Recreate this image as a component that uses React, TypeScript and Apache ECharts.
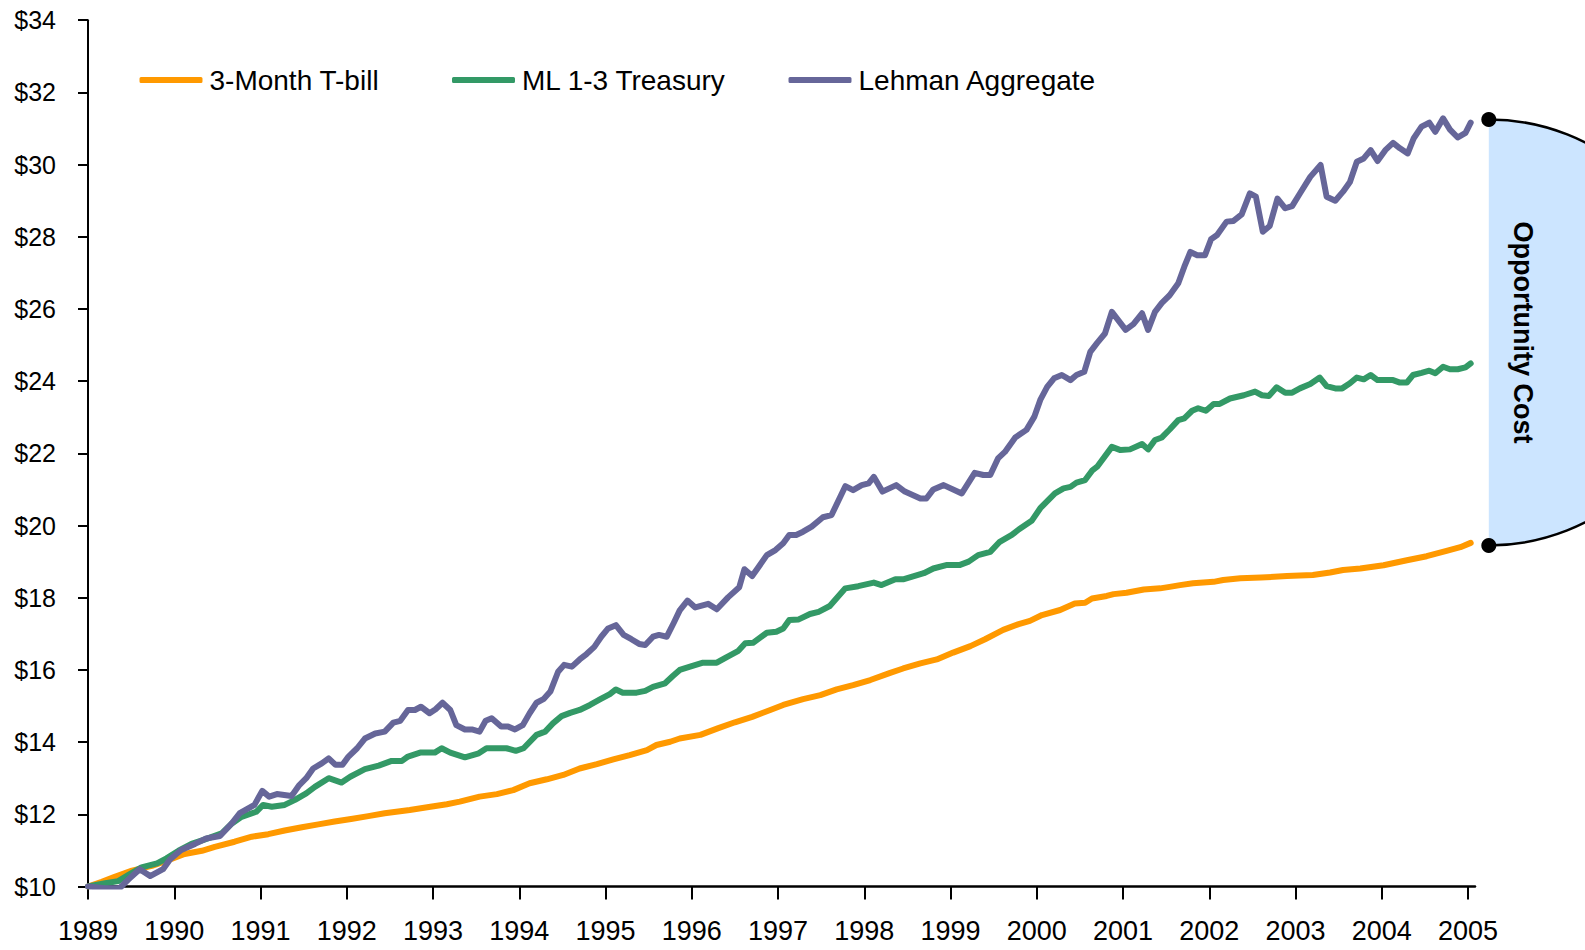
import React, { useEffect, useRef } from "react";
import * as echarts from "echarts";

// ---- data ----
const seriesNames = ["3-Month T-bill", "ML 1-3 Treasury", "Lehman Aggregate"];
const seriesColors = ["#FF9900", "#339966", "#666699"];

const yearTicks = [1989, 1990, 1991, 1992, 1993, 1994, 1995, 1996, 1997, 1998, 1999, 2000, 2001, 2002, 2003, 2004, 2005];

const tbillData: [number, number][] = [
  [1989.0, 10.0], [1989.16, 10.13], [1989.31, 10.27], [1989.51, 10.44], [1989.74, 10.57], [1989.93, 10.73],
  [1990.12, 10.9], [1990.32, 10.99], [1990.47, 11.1], [1990.7, 11.24], [1990.9, 11.38], [1991.09, 11.45],
  [1991.28, 11.55], [1991.48, 11.64], [1991.67, 11.72], [1991.86, 11.8], [1992.05, 11.87], [1992.25, 11.95],
  [1992.44, 12.03], [1992.73, 12.12], [1992.97, 12.21], [1993.16, 12.28], [1993.31, 12.35], [1993.54, 12.49],
  [1993.74, 12.56], [1993.93, 12.67], [1994.12, 12.86], [1994.32, 12.97], [1994.51, 13.09], [1994.7, 13.27],
  [1994.9, 13.39], [1995.09, 13.52], [1995.28, 13.64], [1995.48, 13.78], [1995.59, 13.92], [1995.75, 14.01],
  [1995.86, 14.1], [1996.1, 14.2], [1996.3, 14.38], [1996.5, 14.55], [1996.7, 14.7], [1996.91, 14.89],
  [1997.06, 15.03], [1997.29, 15.19], [1997.49, 15.3], [1997.68, 15.46], [1997.87, 15.58], [1998.07, 15.72],
  [1998.3, 15.92], [1998.45, 16.04], [1998.65, 16.18], [1998.84, 16.29], [1999.03, 16.48], [1999.23, 16.66],
  [1999.4, 16.85], [1999.61, 17.11], [1999.79, 17.27], [1999.92, 17.36], [2000.06, 17.52], [2000.27, 17.66],
  [2000.44, 17.84], [2000.56, 17.86], [2000.64, 17.98], [2000.81, 18.05], [2000.89, 18.1], [2001.04, 18.14],
  [2001.24, 18.23], [2001.43, 18.26], [2001.54, 18.3], [2001.66, 18.35], [2001.81, 18.4], [2002.05, 18.44],
  [2002.16, 18.49], [2002.36, 18.54], [2002.6, 18.56], [2002.9, 18.6], [2003.2, 18.63], [2003.4, 18.7],
  [2003.55, 18.77], [2003.75, 18.81], [2004.02, 18.9], [2004.29, 19.04], [2004.52, 19.15], [2004.75, 19.3],
  [2004.91, 19.4], [2005.03, 19.52],
];

const mlData: [number, number][] = [
  [1989.0, 10.0], [1989.2, 10.09], [1989.35, 10.15], [1989.47, 10.32], [1989.62, 10.53], [1989.8, 10.64],
  [1989.91, 10.78], [1990.05, 10.99], [1990.2, 11.18], [1990.34, 11.29], [1990.55, 11.47], [1990.66, 11.73],
  [1990.78, 11.93], [1990.95, 12.07], [1991.03, 12.26], [1991.13, 12.21], [1991.28, 12.26], [1991.4, 12.4],
  [1991.53, 12.58], [1991.63, 12.76], [1991.79, 13.0], [1991.94, 12.88], [1992.04, 13.04], [1992.21, 13.25],
  [1992.37, 13.35], [1992.52, 13.48], [1992.64, 13.48], [1992.71, 13.6], [1992.85, 13.71], [1993.02, 13.71],
  [1993.1, 13.83], [1993.2, 13.71], [1993.37, 13.58], [1993.53, 13.69], [1993.62, 13.83], [1993.85, 13.83],
  [1993.96, 13.76], [1994.05, 13.83], [1994.2, 14.2], [1994.3, 14.29], [1994.39, 14.52], [1994.49, 14.72],
  [1994.59, 14.81], [1994.7, 14.89], [1994.82, 15.03], [1994.94, 15.19], [1995.05, 15.33], [1995.12, 15.46],
  [1995.2, 15.37], [1995.36, 15.37], [1995.46, 15.42], [1995.55, 15.53], [1995.69, 15.63], [1995.78, 15.83],
  [1995.86, 16.0], [1995.98, 16.09], [1996.13, 16.2], [1996.29, 16.2], [1996.4, 16.35], [1996.54, 16.53],
  [1996.62, 16.74], [1996.71, 16.75], [1996.87, 17.03], [1996.98, 17.06], [1997.06, 17.15], [1997.13, 17.38],
  [1997.24, 17.4], [1997.37, 17.55], [1997.47, 17.61], [1997.6, 17.77], [1997.78, 18.26], [1997.93, 18.32],
  [1998.11, 18.42], [1998.2, 18.35], [1998.36, 18.51], [1998.45, 18.51], [1998.69, 18.68], [1998.8, 18.81],
  [1998.96, 18.91], [1999.11, 18.91], [1999.21, 19.0], [1999.32, 19.18], [1999.46, 19.27], [1999.57, 19.55],
  [1999.71, 19.74], [1999.79, 19.89], [1999.94, 20.13], [2000.04, 20.48], [2000.21, 20.89], [2000.31, 21.03],
  [2000.39, 21.07], [2000.46, 21.19], [2000.56, 21.26], [2000.64, 21.52], [2000.7, 21.63], [2000.87, 22.18],
  [2000.97, 22.09], [2001.08, 22.11], [2001.22, 22.26], [2001.29, 22.11], [2001.37, 22.37], [2001.45, 22.44],
  [2001.54, 22.66], [2001.64, 22.92], [2001.71, 22.97], [2001.8, 23.18], [2001.87, 23.25], [2001.96, 23.18],
  [2002.05, 23.37], [2002.12, 23.37], [2002.24, 23.52], [2002.4, 23.61], [2002.53, 23.71], [2002.61, 23.61],
  [2002.69, 23.59], [2002.78, 23.83], [2002.88, 23.68], [2002.96, 23.68], [2003.05, 23.8], [2003.17, 23.92],
  [2003.28, 24.1], [2003.36, 23.86], [2003.46, 23.8], [2003.54, 23.8], [2003.63, 23.94], [2003.71, 24.1],
  [2003.79, 24.05], [2003.87, 24.17], [2003.95, 24.03], [2004.13, 24.03], [2004.21, 23.96], [2004.29, 23.96],
  [2004.36, 24.17], [2004.46, 24.23], [2004.55, 24.29], [2004.62, 24.22], [2004.71, 24.4], [2004.79, 24.33],
  [2004.88, 24.33], [2004.97, 24.38], [2005.03, 24.49],
];

const lehmanData: [number, number][] = [
  [1989.0, 10.0], [1989.2, 9.95], [1989.37, 9.96], [1989.47, 10.2], [1989.6, 10.48], [1989.72, 10.29],
  [1989.87, 10.48], [1989.95, 10.75], [1990.08, 11.01], [1990.24, 11.18], [1990.37, 11.33], [1990.53, 11.4],
  [1990.66, 11.73], [1990.76, 12.03], [1990.93, 12.26], [1991.02, 12.65], [1991.1, 12.49], [1991.19, 12.56],
  [1991.36, 12.51], [1991.45, 12.81], [1991.53, 13.0], [1991.61, 13.27], [1991.71, 13.41], [1991.79, 13.55],
  [1991.87, 13.37], [1991.95, 13.37], [1992.02, 13.6], [1992.12, 13.83], [1992.21, 14.1], [1992.33, 14.24],
  [1992.44, 14.29], [1992.54, 14.54], [1992.62, 14.59], [1992.71, 14.89], [1992.79, 14.89], [1992.86, 14.98],
  [1992.96, 14.8], [1993.03, 14.91], [1993.11, 15.09], [1993.2, 14.89], [1993.27, 14.47], [1993.37, 14.35],
  [1993.45, 14.35], [1993.54, 14.29], [1993.61, 14.59], [1993.68, 14.66], [1993.79, 14.43], [1993.87, 14.43],
  [1993.95, 14.35], [1994.04, 14.47], [1994.12, 14.8], [1994.2, 15.09], [1994.28, 15.19], [1994.36, 15.4],
  [1994.45, 15.95], [1994.52, 16.14], [1994.61, 16.09], [1994.7, 16.29], [1994.78, 16.44], [1994.87, 16.64],
  [1994.95, 16.92], [1995.03, 17.15], [1995.12, 17.24], [1995.21, 16.97], [1995.3, 16.85], [1995.39, 16.72],
  [1995.46, 16.69], [1995.55, 16.92], [1995.62, 16.97], [1995.71, 16.92], [1995.79, 17.3], [1995.86, 17.65],
  [1995.95, 17.92], [1996.04, 17.73], [1996.19, 17.83], [1996.29, 17.68], [1996.42, 18.01], [1996.55, 18.29],
  [1996.61, 18.79], [1996.7, 18.6], [1996.77, 18.84], [1996.87, 19.18], [1996.97, 19.32], [1997.06, 19.51],
  [1997.13, 19.74], [1997.21, 19.74], [1997.29, 19.83], [1997.39, 19.97], [1997.52, 20.23], [1997.62, 20.29],
  [1997.78, 21.09], [1997.87, 20.98], [1997.97, 21.12], [1998.05, 21.17], [1998.11, 21.35], [1998.21, 20.94],
  [1998.37, 21.12], [1998.47, 20.94], [1998.65, 20.75], [1998.72, 20.75], [1998.8, 21.0], [1998.92, 21.12],
  [1999.13, 20.89], [1999.28, 21.46], [1999.38, 21.4], [1999.46, 21.4], [1999.55, 21.86], [1999.63, 22.04],
  [1999.75, 22.44], [1999.88, 22.65], [1999.97, 23.01], [2000.04, 23.48], [2000.12, 23.84], [2000.2, 24.08],
  [2000.29, 24.17], [2000.39, 24.03], [2000.46, 24.17], [2000.55, 24.26], [2000.62, 24.81], [2000.7, 25.06],
  [2000.79, 25.32], [2000.87, 25.92], [2000.95, 25.67], [2001.03, 25.42], [2001.12, 25.58], [2001.22, 25.88],
  [2001.29, 25.42], [2001.37, 25.92], [2001.45, 26.17], [2001.54, 26.38], [2001.64, 26.71], [2001.71, 27.17],
  [2001.78, 27.58], [2001.86, 27.49], [2001.95, 27.49], [2002.02, 27.93], [2002.09, 28.05], [2002.2, 28.42],
  [2002.28, 28.44], [2002.375, 28.62], [2002.47, 29.2], [2002.54, 29.11], [2002.62, 28.14], [2002.7, 28.3],
  [2002.79, 29.06], [2002.88, 28.79], [2002.96, 28.85], [2003.05, 29.2], [2003.17, 29.66], [2003.29, 29.99],
  [2003.36, 29.11], [2003.46, 29.0], [2003.55, 29.25], [2003.63, 29.52], [2003.71, 30.08], [2003.79, 30.17],
  [2003.87, 30.4], [2003.95, 30.1], [2004.04, 30.4], [2004.13, 30.6], [2004.21, 30.45], [2004.3, 30.31],
  [2004.37, 30.73], [2004.46, 31.05], [2004.55, 31.16], [2004.62, 30.91], [2004.71, 31.28], [2004.79, 30.97],
  [2004.88, 30.75], [2004.97, 30.88], [2005.03, 31.16],
];

// annotation: the gap between Lehman and T-bill at the end of the period
const annotationLabel = "Opportunity Cost";
const annotationYear = 2005.24;
const annotationTop = 31.25;
const annotationBottom = 19.45;

const FONT = "'Liberation Sans', Arial, sans-serif";
const LEGEND_LEFTS = [139.5, 452, 788.5];

export default function App() {
  const ref = useRef<HTMLDivElement>(null);

  useEffect(() => {
    if (!ref.current) return;
    const chart = echarts.init(ref.current, null, { renderer: "svg" });
    const allData = [tbillData, mlData, lehmanData];

    const option: any = {
      animation: false,
      backgroundColor: "#ffffff",
      grid: { left: 88, right: 110, top: 20.2, bottom: 63.5, containLabel: false, outerBoundsMode: "none" },
      legend: seriesNames.map((n, i) => ({
        data: [n],
        left: LEGEND_LEFTS[i],
        top: 60,
        padding: 0,
        icon: "roundRect",
        itemWidth: 63,
        itemHeight: 6,
        selectedMode: false,
        textStyle: { fontSize: 28, fontFamily: FONT, color: "#000", lineHeight: 40, padding: [0, 0, 0, 2] },
      })),
      xAxis: {
        type: "value",
        min: 1989,
        max: 2005.08,
        interval: 1,
        splitLine: { show: false },
        axisLine: { show: true, lineStyle: { color: "#000", width: 2.5 } },
        axisTick: { show: true, length: 13, lineStyle: { color: "#000", width: 2 }, customValues: yearTicks },
        axisLabel: {
          customValues: yearTicks,
          formatter: (v: number) => String(Math.round(v)),
          color: "#000",
          fontSize: 27,
          fontFamily: FONT,
          margin: 31,
        },
      },
      yAxis: {
        type: "value",
        min: 10,
        max: 34,
        interval: 2,
        splitLine: { show: false },
        axisLine: { show: true, lineStyle: { color: "#000", width: 2 } },
        axisTick: { show: true, length: 10, lineStyle: { color: "#000", width: 2 } },
        axisLabel: {
          formatter: (v: number) => "$" + v,
          color: "#000",
          fontSize: 25,
          fontFamily: FONT,
          margin: 32,
        },
      },
      series: seriesNames.map((n, i) => ({
        name: n,
        type: "line",
        data: allData[i],
        symbol: "none",
        color: seriesColors[i],
        lineStyle: { color: seriesColors[i], width: 6, cap: "round", join: "round" },
        itemStyle: { color: seriesColors[i] },
        z: 2 + i,
      })),
    };
    chart.setOption(option);

    const top = chart.convertToPixel({ xAxisIndex: 0, yAxisIndex: 0 } as any, [annotationYear, annotationTop]) as number[];
    const bot = chart.convertToPixel({ xAxisIndex: 0, yAxisIndex: 0 } as any, [annotationYear, annotationBottom]) as number[];
    const cx = top[0];
    const cy = (top[1] + bot[1]) / 2;
    const r = (bot[1] - top[1]) / 2;

    chart.setOption({
      graphic: [
        {
          type: "sector",
          z: 10,
          shape: { cx, cy, r, r0: 0, startAngle: -Math.PI / 2, endAngle: Math.PI / 2, clockwise: true },
          style: { fill: "#CCE5FF", stroke: "none" },
        },
        {
          type: "arc",
          z: 11,
          shape: { cx, cy, r, startAngle: -Math.PI / 2, endAngle: Math.PI / 2, clockwise: true },
          style: { stroke: "#000", lineWidth: 2.5, fill: "none" },
        },
        { type: "circle", z: 12, shape: { cx, cy: top[1], r: 7.5 }, style: { fill: "#000" } },
        { type: "circle", z: 12, shape: { cx, cy: bot[1], r: 7.5 }, style: { fill: "#000" } },
        {
          type: "text",
          z: 13,
          x: cx + 34,
          y: cy,
          rotation: -Math.PI / 2,
          style: {
            text: annotationLabel,
            fill: "#000",
            fontSize: 27,
            fontWeight: "bold",
            fontFamily: FONT,
            align: "center",
            verticalAlign: "middle",
          },
        },
      ],
    });

    return () => chart.dispose();
  }, []);

  return <div ref={ref} style={{ position: "fixed", left: 0, top: 0, width: 1585, height: 950 }} />;
}
